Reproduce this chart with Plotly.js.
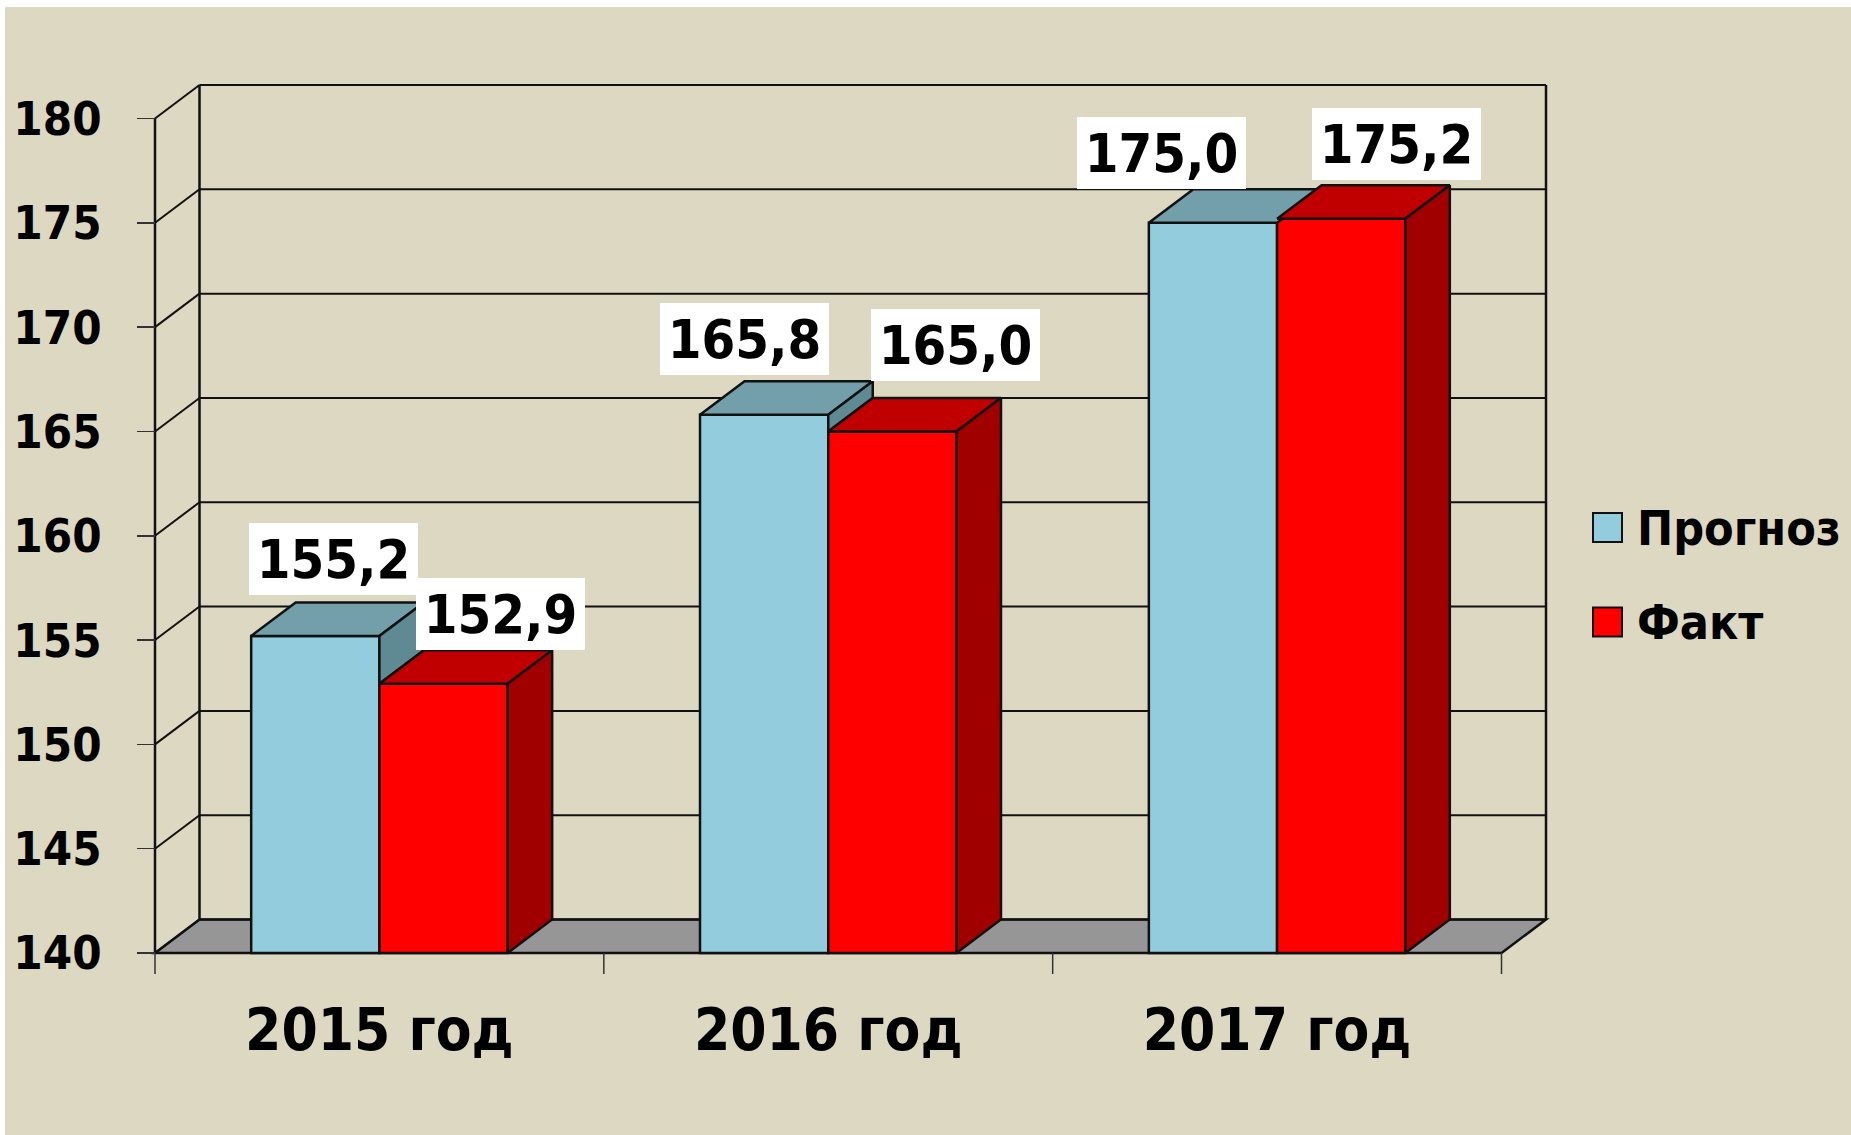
<!DOCTYPE html>
<html>
<head>
<meta charset="utf-8">
<script src="https://cdn.plot.ly/plotly-3.0.1.min.js"></script>
<style>
html, body { margin: 0; padding: 0; background: #ffffff; width: 1851px; height: 1135px; overflow: hidden; }
#chart { position: absolute; left: 5px; top: 7px; width: 1846px; height: 1128px; }
</style>
</head>
<body>
<div id="chart"></div>
<script>
// ---------------- data ----------------
const categories = ['2015 год', '2016 год', '2017 год'];
const seriesNames = ['Прогноз', 'Факт'];
const forecast = [155.2, 165.8, 175.0];
const actual = [152.9, 165.0, 175.2];
const yTickValues = [140, 145, 150, 155, 160, 165, 170, 175, 180];

// ---------------- style / geometry ----------------
const FONT = '"DejaVu Sans Condensed", "DejaVu Sans", sans-serif';
const BG = '#DDD8C2';
const seriesStyle = [
  { front: '#93CDDD', top: '#729FAA', side: '#5F8A94' },
  { front: '#FF0000', top: '#C00000', side: '#A00000' }
];
const FLOOR = '#969696';
const EDGE = '#111111';
const W = 1846, H = 1128, offX = 5, offY = 7, pageW = 1851, pageH = 1135;
const frontLeftPx = 155, frontBottomPx = 953.3, backRightPx = 1546, backTopPx = 84.5;
const depthPx = { x: 44.5, y: 33.5 };
const pad = 4;
const bargap = 1.5 / 3.5;
const barW = (1 - bargap) / 2;
const yMin = yTickValues[0], yMax = yTickValues[yTickValues.length - 1];
const nCat = categories.length;

const margin = {
  l: Math.round(frontLeftPx - pad - offX),
  r: Math.round(pageW - backRightPx - pad),
  t: Math.round(backTopPx - pad - offY),
  b: Math.round(pageH - frontBottomPx - pad)
};
const plotW = W - margin.l - margin.r;
const plotH = H - margin.t - margin.b;
const catPx = (plotW - 2 * pad - depthPx.x) / nCat;
const unitPx = (plotH - 2 * pad - depthPx.y) / (yMax - yMin);
const dxU = depthPx.x / catPx;
const dyU = depthPx.y / unitPx;
const xRange = [-0.5 - pad / catPx, nCat - 0.5 + dxU + pad / catPx];
const yRange = [yMin - pad / unitPx, yMax + dyU + pad / unitPx];
const paperX = px => (px - offX - margin.l) / plotW;
const paperY = py => 1 - (py - offY - margin.t) / plotH;

// label box offsets (px) relative to bar front centre / back top edge
const labelShiftX = [[18.6, -19.8, -51.3], [57, 63, 55.6]];
const labelShiftY = [[7.7, 6.6, 0.4], [0.7, 17.3, 5.5]];
const fmt = v => v.toFixed(1).replace('.', ',');

const idx = categories.map((_, i) => i);
const seriesValues = [forecast, actual];

// ---------------- traces ----------------
const traces = [];
seriesValues.forEach((vals, s) => {
  traces.push({
    type: 'bar', name: seriesNames[s], x: idx,
    y: vals.map(v => v - yMin), base: yMin,
    marker: { color: seriesStyle[s].front, line: { color: EDGE, width: 2.5 } },
    hoverinfo: 'skip', showlegend: false, cliponaxis: false
  });
});

function face(pts, color) {
  const xs = pts.map(p => p[0]); const ys = pts.map(p => p[1]);
  xs.push(xs[0]); ys.push(ys[0]);
  return { type: 'scatter', mode: 'lines', x: xs, y: ys, fill: 'toself', fillcolor: color,
    line: { color: EDGE, width: 2.5 }, hoverinfo: 'skip', showlegend: false };
}

idx.forEach(i => {
  // forecast (left bar)
  let v = forecast[i], a = actual[i];
  let xL = i - barW, xR = i;
  traces.push(face([[xL, v], [xR, v], [xR + dxU, v + dyU], [xL + dxU, v + dyU]], seriesStyle[0].top));
  if (v > a) {
    traces.push(face([[xR, a], [xR, v], [xR + dxU, v + dyU], [xR + dxU, a + dyU]], seriesStyle[0].side));
  }
  // actual (right bar)
  v = a; xL = i; xR = i + barW;
  traces.push(face([[xL, v], [xR, v], [xR + dxU, v + dyU], [xL + dxU, v + dyU]], seriesStyle[1].top));
  traces.push(face([[xR, yMin], [xR, v], [xR + dxU, v + dyU], [xR + dxU, yMin + dyU]], seriesStyle[1].side));
});

// ---------------- shapes ----------------
const shapes = [];
const x0 = -0.5, x1 = nCat - 0.5;
shapes.push({ type: 'path', layer: 'below', xref: 'x', yref: 'y',
  path: `M ${x0},${yMin} L ${x1},${yMin} L ${x1 + dxU},${yMin + dyU} L ${x0 + dxU},${yMin + dyU} Z`,
  fillcolor: FLOOR, line: { color: EDGE, width: 2.5 } });
yTickValues.forEach(t => {
  shapes.push({ type: 'line', layer: 'below', xref: 'x', yref: 'y',
    x0: x0 + dxU, x1: x1 + dxU, y0: t + dyU, y1: t + dyU, line: { color: EDGE, width: 2 } });
  shapes.push({ type: 'line', layer: 'below', xref: 'x', yref: 'y',
    x0: x0, x1: x0 + dxU, y0: t, y1: t + dyU, line: { color: EDGE, width: 2 } });
});
shapes.push({ type: 'line', layer: 'below', xref: 'x', yref: 'y',
  x0: x0 + dxU, x1: x0 + dxU, y0: yMin + dyU, y1: yMax + dyU, line: { color: EDGE, width: 2.5 } });
shapes.push({ type: 'line', layer: 'below', xref: 'x', yref: 'y',
  x0: x1 + dxU, x1: x1 + dxU, y0: yMin + dyU, y1: yMax + dyU, line: { color: EDGE, width: 2.5 } });
shapes.push({ type: 'line', layer: 'below', xref: 'x', yref: 'y',
  x0: x0, x1: x0, y0: yMin, y1: yMax, line: { color: EDGE, width: 2.5 } });
// category boundary tick marks
for (let k = 0; k <= nCat; k++) {
  shapes.push({ type: 'line', layer: 'above', xref: 'x', yref: 'paper',
    x0: k - 0.5, x1: k - 0.5, y0: pad / plotH, y1: (pad - 21) / plotH,
    line: { color: '#333333', width: 1.5 } });
}

// legend (manual, large swatches)
const legendSwatchLeft = 1593, legendSwatchSize = 29, legendTextLeft = 1635;
const legendCentersY = [527.5, 622];
const annotations = [];
seriesNames.forEach((name, s) => {
  const cy = legendCentersY[s];
  shapes.push({ type: 'rect', xref: 'paper', yref: 'paper', layer: 'above',
    x0: paperX(legendSwatchLeft), x1: paperX(legendSwatchLeft + legendSwatchSize),
    y0: paperY(cy + legendSwatchSize / 2), y1: paperY(cy - legendSwatchSize / 2),
    fillcolor: seriesStyle[s].front, line: { color: EDGE, width: 2 } });
  annotations.push({ xref: 'paper', yref: 'paper', x: paperX(legendTextLeft), y: paperY(cy),
    xanchor: 'left', yanchor: 'middle', showarrow: false, text: name,
    font: { family: FONT, size: 48, weight: 'bold', color: '#000' } });
});

// data labels
seriesValues.forEach((vals, s) => {
  vals.forEach((v, i) => {
    const cx = s === 0 ? i - barW / 2 : i + barW / 2;
    annotations.push({ xref: 'x', yref: 'y', x: cx, y: v + dyU,
      xanchor: 'center', yanchor: 'bottom',
      xshift: labelShiftX[s][i], yshift: labelShiftY[s][i],
      showarrow: false, text: fmt(v), bgcolor: '#FFFFFF', borderpad: 0,
      borderwidth: 0, width: 169, height: 72,
      font: { family: FONT, size: 54, weight: 'bold', color: '#000' } });
  });
});

const layout = {
  width: W, height: H, margin: margin,
  paper_bgcolor: BG, plot_bgcolor: 'rgba(0,0,0,0)',
  barmode: 'group', bargap: bargap, bargroupgap: 0,
  showlegend: false,
  font: { family: FONT, color: '#000' },
  xaxis: {
    type: 'linear', range: xRange, anchor: 'free', position: pad / plotH,
    tickvals: idx, ticktext: categories, ticks: '', showgrid: false, zeroline: false, showline: false,
    tickfont: { family: FONT, size: 58, weight: 'bold', color: '#000' }, ticklabelstandoff: 38
  },
  yaxis: {
    type: 'linear', range: yRange, anchor: 'free', position: pad / plotW,
    tickvals: yTickValues, ticks: 'outside', ticklen: 18, tickwidth: 1.5, tickcolor: '#333333',
    showgrid: false, zeroline: false, showline: false,
    tickfont: { family: FONT, size: 47, weight: 'bold', color: '#000' }, ticklabelstandoff: 26
  },
  shapes: shapes,
  annotations: annotations
};

Plotly.newPlot('chart', traces, layout, { staticPlot: true, displayModeBar: false });
</script>
</body>
</html>
